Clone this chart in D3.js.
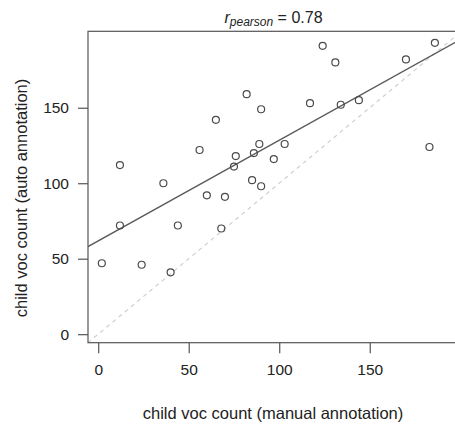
<!DOCTYPE html>
<html>
<head>
<meta charset="utf-8">
<script src="https://cdn.jsdelivr.net/npm/d3@7"></script>
<style>
  html, body { margin: 0; padding: 0; background: #fff; }
  svg { display: block; font-family: "Liberation Sans", Arial, Helvetica, sans-serif; }
</style>
</head>
<body>
<svg id="chart" width="455" height="425"></svg>
<script>
// ---- data ----
const manualCounts = [82, 90, 65, 124, 131, 170, 186, 117, 134, 144, 12, 36, 56, 76, 86, 89, 75, 85, 90, 60, 70, 12, 44, 68, 103, 97, 183, 2, 24, 40];
const autoCounts   = [159, 149, 142, 191, 180, 182, 193, 153, 152, 155, 112, 100, 122, 118, 120, 126, 111, 102, 98, 92, 91, 72, 72, 70, 126, 116, 124, 47, 46, 41];
const xTickValues = [0, 50, 100, 150];
const yTickValues = [0, 50, 100, 150];
const fitIntercept = 61.8;
const fitSlope = 0.667;
const titleValue = "0.78";
const xTitle = "child voc count (manual annotation)";
const yTitle = "child voc count (auto annotation)";

const points = manualCounts.map((m, i) => ({ x: m, y: autoCounts[i] }));

// ---- layout ----
const svg = d3.select("#chart");
const mLeft = 88, mTop = 31.3, mBottom = 342.7, mRight = 461.4;

// R-style limits: range of all values, padded 4%
const ext = d3.extent(manualCounts.concat(autoCounts));
const pad = (ext[1] - ext[0]) * 0.04;
const lim = [ext[0] - pad, ext[1] + pad];

const x = d3.scaleLinear().domain(lim).range([mLeft, mRight]);
const y = d3.scaleLinear().domain(lim).range([mBottom, mTop]);

const axisColor = "#555";
const textColor = "#222";

svg.append("defs").append("clipPath").attr("id", "plotclip")
  .append("rect").attr("x", mLeft).attr("y", mTop)
  .attr("width", mRight - mLeft).attr("height", mBottom - mTop);

const plot = svg.append("g").attr("clip-path", "url(#plotclip)");

// identity line y = x (dashed, light grey)
plot.append("line")
  .attr("x1", x(lim[0])).attr("y1", y(lim[0]))
  .attr("x2", x(lim[1])).attr("y2", y(lim[1]))
  .attr("stroke", "#cfcfcf").attr("stroke-width", 1.2)
  .attr("stroke-dasharray", "4,4");

// regression line
plot.append("line")
  .attr("x1", x(lim[0])).attr("y1", y(fitIntercept + fitSlope * lim[0]))
  .attr("x2", x(lim[1])).attr("y2", y(fitIntercept + fitSlope * lim[1]))
  .attr("stroke", "#595959").attr("stroke-width", 1.3);

// points
plot.selectAll("circle").data(points).enter().append("circle")
  .attr("cx", d => x(d.x)).attr("cy", d => y(d.y))
  .attr("r", 3.5)
  .attr("fill", "none").attr("stroke", "#4a4a4a").attr("stroke-width", 1.2);

// box
svg.append("rect")
  .attr("x", mLeft).attr("y", mTop)
  .attr("width", mRight - mLeft).attr("height", mBottom - mTop)
  .attr("fill", "none").attr("stroke", axisColor).attr("stroke-width", 1.2);

// axes
const xAxis = svg.append("g").attr("transform", `translate(0,${mBottom})`)
  .call(d3.axisBottom(x).tickValues(xTickValues).tickSize(10.5).tickSizeOuter(0).tickPadding(11).tickFormat(d3.format("d")));
const yAxis = svg.append("g").attr("transform", `translate(${mLeft},0)`)
  .call(d3.axisLeft(y).tickValues(yTickValues).tickSize(10).tickSizeOuter(0).tickPadding(9).tickFormat(d3.format("d")));

[xAxis, yAxis].forEach(a => {
  a.select(".domain").remove();
  a.selectAll(".tick line").attr("stroke", axisColor).attr("stroke-width", 1.2);
  a.selectAll(".tick text").attr("fill", textColor).style("font-size", "15.5px")
    .style("font-family", '"Liberation Sans", Arial, sans-serif');
});

// title
const title = svg.append("text")
  .attr("x", 273.5).attr("y", 22.5)
  .attr("text-anchor", "middle")
  .attr("fill", textColor)
  .style("font-size", "16px");
title.append("tspan").style("font-style", "italic").text("r");
title.append("tspan").style("font-style", "italic").style("font-size", "12px")
  .attr("dy", 3).text("pearson");
title.append("tspan").attr("dy", -3).text(" = " + titleValue);

// axis titles
svg.append("text")
  .attr("x", 273).attr("y", 418.5)
  .attr("text-anchor", "middle").attr("fill", textColor)
  .style("font-size", "16.5px").text(xTitle);

svg.append("text")
  .attr("transform", "translate(26.5,198) rotate(-90)")
  .attr("text-anchor", "middle").attr("fill", textColor)
  .style("font-size", "16.5px").text(yTitle);
</script>
</body>
</html>
